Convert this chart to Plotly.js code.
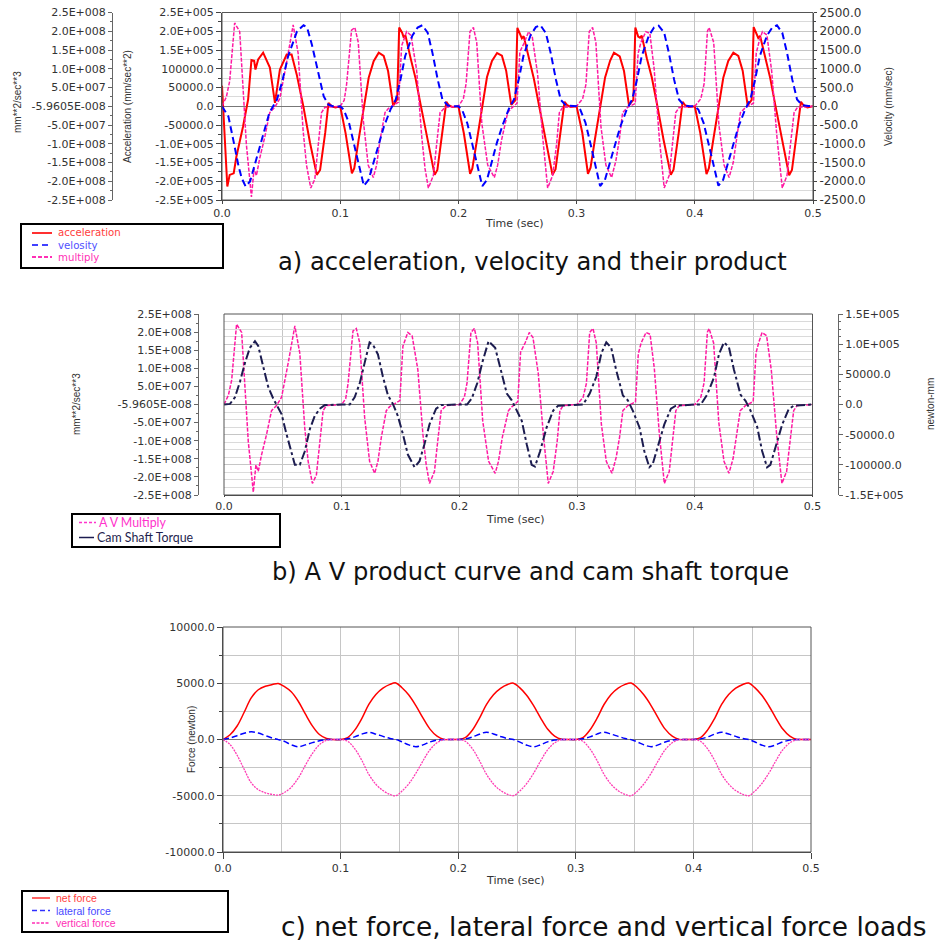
<!DOCTYPE html>
<html><head><meta charset="utf-8">
<script src="https://cdn.plot.ly/plotly-3.0.1.min.js"></script>
<style>body{margin:0;background:#fff}#chart{width:938px;height:943px}</style>
</head><body><div id="chart"></div>
<script>
// ---------- DATA ----------
const timeTicks = [0, 0.1, 0.2, 0.3, 0.4, 0.5];
const timeTickText = ['0.0', '0.1', '0.2', '0.3', '0.4', '0.5'];

const accTicks = [250000, 200000, 150000, 100000, 50000, 0, -50000, -100000, -150000, -200000, -250000];
const accTickText = ['2.5E+005', '2.0E+005', '1.5E+005', '100000.0', '50000.0', '0.0', '-50000.0', '-1.0E+005', '-1.5E+005', '-2.0E+005', '-2.5E+005'];

const mulTicks = [2.5e8, 2.0e8, 1.5e8, 1.0e8, 5.0e7, 0, -5.0e7, -1.0e8, -1.5e8, -2.0e8, -2.5e8];
const mulTickText = ['2.5E+008', '2.0E+008', '1.5E+008', '1.0E+008', '5.0E+007', '-5.9605E-008', '-5.0E+007', '-1.0E+008', '-1.5E+008', '-2.0E+008', '-2.5E+008'];

const velTicks = [2500, 2000, 1500, 1000, 500, 0, -500, -1000, -1500, -2000, -2500];
const velTickText = ['2500.0', '2000.0', '1500.0', '1000.0', '500.0', '0.0', '-500.0', '-1000.0', '-1500.0', '-2000.0', '-2500.0'];

const torTicks = [150000, 100000, 50000, 0, -50000, -100000, -150000];
const torTickText = ['1.5E+005', '1.0E+005', '50000.0', '0.0', '-50000.0', '-100000.0', '-1.5E+005'];

const forceTicks = [10000, 5000, 0, -5000, -10000];
const forceTickText = ['10000.0', '5000.0', '0.0', '-5000.0', '-10000.0'];

// acceleration (mm/sec**2)
const accT = [
 0, 0.0045, 0.0065, 0.0099, 0.0122, 0.0178, 0.0221, 0.0249, 0.0272, 0.0283, 0.0306, 0.0348, 0.0405, 0.0448, 0.049, 0.0547, 0.0589, 0.0632, 0.0688, 0.0745, 0.0802, 0.083, 0.0873, 0.0901, 0.0929, 0.096,
 0.1, 0.1045, 0.1099, 0.1119, 0.1156, 0.1198, 0.1241, 0.1283, 0.1326, 0.1368, 0.1405, 0.1448, 0.1482, 0.1499, 0.1524, 0.1538, 0.1552, 0.1595, 0.1637, 0.168, 0.1737, 0.1799, 0.1822, 0.1864, 0.1898, 0.192, 0.1949,
 0.2, 0.2046, 0.2099, 0.2118, 0.2157, 0.2199, 0.2242, 0.2284, 0.2327, 0.2368, 0.2404, 0.2447, 0.2482, 0.2499, 0.2523, 0.2537, 0.2552, 0.2596, 0.2638, 0.2681, 0.2738, 0.2796, 0.2822, 0.2864, 0.2898, 0.292, 0.295,
 0.3, 0.3048, 0.3096, 0.3118, 0.3155, 0.3197, 0.3241, 0.3284, 0.3316, 0.3365, 0.3401, 0.3443, 0.348, 0.3497, 0.3521, 0.3536, 0.3551, 0.3594, 0.3637, 0.368, 0.3736, 0.3797, 0.382, 0.3864, 0.3897, 0.392, 0.395,
 0.4, 0.4046, 0.4099, 0.4119, 0.4156, 0.4198, 0.4241, 0.4283, 0.4326, 0.4368, 0.4405, 0.4447, 0.4481, 0.4498, 0.4523, 0.4537, 0.4552, 0.4595, 0.4638, 0.468, 0.4737, 0.4798, 0.4822, 0.4864, 0.4898, 0.4921, 0.4952, 0.5
];
const accA = [
 55000, -214000, -183000, -179000, -134000, -54000, 18000, 123000, 121000, 98000, 125000, 143000, 103000, 9000, 98000, 138000, 138000, 85000, 0, -98000, -183000, -170000, -71000, 9000, 0, -3000,
 0, -71000, -179000, -165000, -89000, -10000, 76000, 120000, 143000, 134000, 94000, 2000, 18000, 210000, 196000, 183000, 189000, 129000, 75000, 5000, -90000, -183000, -170000, -70000, 12000, 2000, -2000,
 0, -72000, -180000, -166000, -90000, -8000, 78000, 121000, 142000, 135000, 95000, 4000, 16000, 209000, 190000, 181000, 187000, 128000, 74000, 4000, -92000, -183000, -168000, -72000, 12000, 3000, -2000,
 0, -70000, -180000, -164000, -88000, -9000, 77000, 122000, 143000, 133000, 94000, 3000, 17000, 210000, 186000, 183000, 188000, 128000, 76000, 6000, -90000, -183000, -169000, -71000, 12000, 2000, -2000,
 0, -71000, -181000, -165000, -90000, -10000, 76000, 121000, 143000, 134000, 95000, 2000, 17000, 211000, 190000, 182000, 188000, 130000, 75000, 5000, -91000, -184000, -170000, -70000, 12000, 2000, -3000, 0
];

// velocity (mm/sec)
const velT = [
 0, 0.0054, 0.0095, 0.014, 0.0167, 0.02, 0.0238, 0.0295, 0.035, 0.04, 0.0465, 0.0507, 0.056, 0.0635, 0.069, 0.072, 0.076, 0.08, 0.086, 0.09, 0.096,
 0.1, 0.103, 0.1075, 0.1115, 0.116, 0.12, 0.124, 0.128, 0.1325, 0.137, 0.1425, 0.147, 0.151, 0.155, 0.161, 0.1655, 0.1695, 0.174, 0.178, 0.1825, 0.1865, 0.191, 0.196,
 0.2, 0.2032, 0.2076, 0.2116, 0.2161, 0.2202, 0.2241, 0.2281, 0.2326, 0.2371, 0.2426, 0.2471, 0.2511, 0.2551, 0.261, 0.2655, 0.2694, 0.274, 0.2781, 0.2826, 0.2866, 0.291, 0.296,
 0.3, 0.3031, 0.3075, 0.3116, 0.3161, 0.3199, 0.324, 0.3281, 0.3325, 0.337, 0.3424, 0.347, 0.3511, 0.3551, 0.3611, 0.3655, 0.3694, 0.3741, 0.378, 0.3825, 0.3866, 0.391, 0.396,
 0.4, 0.403, 0.4075, 0.4115, 0.416, 0.42, 0.424, 0.428, 0.4325, 0.437, 0.4425, 0.447, 0.451, 0.455, 0.461, 0.4655, 0.4695, 0.474, 0.478, 0.4825, 0.4865, 0.491, 0.496, 0.5
];
const velV = [
 0, -270, -890, -1600, -1920, -2140, -2000, -1340, -710, -180, 180, 630, 1340, 2000, 2160, 2100, 1650, 1070, 270, 40, -20,
 0, -90, -450, -980, -1600, -2120, -1960, -1520, -980, -540, -90, 180, 710, 1340, 1880, 2100, 2160, 1960, 1430, 710, 180, 20, 0,
 0, -100, -460, -990, -1610, -2130, -1970, -1510, -970, -530, -80, 190, 720, 1350, 1890, 2110, 2160, 1950, 1420, 700, 170, 20, 0,
 0, -90, -440, -980, -1600, -2130, -1960, -1520, -980, -540, -90, 180, 710, 1340, 1880, 2100, 2150, 1960, 1430, 710, 180, 20, 0,
 0, -90, -450, -980, -1600, -2120, -1960, -1520, -980, -540, -90, 180, 710, 1340, 1880, 2100, 2160, 1960, 1430, 710, 180, 30, 10, 10
];

// A V product (mm**2/sec**3)
const mulT = [
 0, 0.0037, 0.0065, 0.0107, 0.015, 0.0178, 0.0206, 0.0249, 0.0271, 0.0291, 0.0319, 0.0362, 0.0404, 0.0446, 0.0489, 0.0545, 0.0602, 0.0644, 0.0686, 0.0715, 0.0751, 0.0785, 0.0814, 0.0842, 0.087,
 0.1, 0.1034, 0.1054, 0.1096, 0.1124, 0.1153, 0.1195, 0.1237, 0.128, 0.1308, 0.1336, 0.1379, 0.1407, 0.1449, 0.1494, 0.152, 0.1562, 0.1599, 0.1647, 0.169, 0.1718, 0.1746, 0.1788, 0.1816, 0.1845, 0.1887,
 0.2, 0.2042, 0.2065, 0.2098, 0.2127, 0.2155, 0.2198, 0.2248, 0.2304, 0.2332, 0.2365, 0.2417, 0.245, 0.2496, 0.252, 0.2558, 0.2594, 0.2625, 0.267, 0.2713, 0.2755, 0.2797, 0.2831, 0.2854, 0.2882,
 0.3, 0.3051, 0.3079, 0.3107, 0.3135, 0.3163, 0.3206, 0.3248, 0.3296, 0.3332, 0.3361, 0.3389, 0.3431, 0.3496, 0.352, 0.3544, 0.3586, 0.362, 0.3656, 0.3699, 0.3741, 0.3783, 0.3811, 0.3839, 0.3868,
 0.4, 0.4051, 0.4079, 0.4107, 0.4121, 0.416, 0.4204, 0.4248, 0.429, 0.4325, 0.4355, 0.4386, 0.443, 0.4496, 0.452, 0.4542, 0.4572, 0.461, 0.465, 0.4695, 0.474, 0.478, 0.481, 0.484, 0.4868, 0.5
];
const mulV = [
 0, 0.25e8, 0.67e8, 2.22e8, 1.99e8, 0.58e8, -1.01e8, -2.42e8, -1.67e8, -1.85e8, -1.39e8, -0.82e8, -0.17e8, -0.03e8, 0.2e8, 1.14e8, 2.17e8, 1.42e8, -0.64e8, -1.57e8, -2.18e8, -1.95e8, -1.01e8, -0.17e8, -0.03e8,
 0, 0.16e8, 0.58e8, 2.03e8, 2.1e8, 1.7e8, -0.36e8, -1.57e8, -1.9e8, -1.57e8, -0.92e8, -0.17e8, -0.06e8, 0.02e8, 0.11e8, 1.61e8, 1.99e8, 1.89e8, 0.96e8, -0.82e8, -1.67e8, -2.18e8, -1.85e8, -1.01e8, -0.17e8, -0.03e8,
 0, 0.2e8, 0.6e8, 1.99e8, 2.1e8, 1.7e8, -0.45e8, -1.57e8, -1.9e8, -1.57e8, -0.9e8, -0.17e8, -0.05e8, 0.08e8, 1.45e8, 1.7e8, 1.99e8, 1.85e8, 0.86e8, -0.82e8, -2.18e8, -1.85e8, -1.01e8, -0.17e8, -0.03e8,
 0, 0.2e8, 0.58e8, 1.99e8, 2.1e8, 1.7e8, -0.54e8, -1.57e8, -1.9e8, -1.46e8, -0.9e8, -0.17e8, -0.03e8, 0.07e8, 1.4e8, 1.7e8, 1.99e8, 1.94e8, 1.0e8, -0.82e8, -2.18e8, -1.85e8, -1.01e8, -0.17e8, -0.03e8,
 0, 0.2e8, 0.6e8, 2.0e8, 2.1e8, 1.7e8, -0.5e8, -1.57e8, -1.9e8, -1.5e8, -0.9e8, -0.17e8, -0.03e8, 0.08e8, 1.42e8, 1.7e8, 1.99e8, 1.9e8, 0.95e8, -0.82e8, -2.18e8, -1.85e8, -1.0e8, -0.17e8, -0.03e8, 0
];

// cam shaft torque (newton-mm)
const torT = [
 0, 0.0051, 0.0093, 0.0136, 0.0178, 0.022, 0.0263, 0.0291, 0.0333, 0.0376, 0.0418, 0.046, 0.0489, 0.0531, 0.0573, 0.0602, 0.0644, 0.0686, 0.0729, 0.0771, 0.0814, 0.0856,
 0.1, 0.1068, 0.111, 0.1153, 0.1195, 0.1237, 0.1266, 0.1308, 0.135, 0.1393, 0.1435, 0.1477, 0.152, 0.1562, 0.1619, 0.1661, 0.1703, 0.1746, 0.1802, 0.1845,
 0.2, 0.2065, 0.2105, 0.2153, 0.2195, 0.2248, 0.2304, 0.2346, 0.2403, 0.2445, 0.2487, 0.253, 0.2572, 0.2614, 0.2642, 0.2685, 0.2741, 0.2797, 0.2839,
 0.3, 0.3051, 0.3107, 0.3163, 0.3206, 0.3248, 0.329, 0.3332, 0.3389, 0.3431, 0.3473, 0.353, 0.3572, 0.3614, 0.3642, 0.3685, 0.3741, 0.3797, 0.3839,
 0.4, 0.4051, 0.4107, 0.4163, 0.4206, 0.4248, 0.429, 0.4332, 0.4389, 0.4431, 0.4473, 0.453, 0.4572, 0.4614, 0.4642, 0.4685, 0.4741, 0.4797, 0.484, 0.5
];
const torV = [
 0, 1000, 12000, 38000, 69000, 94000, 105000, 97000, 63000, 29000, 10000, -4000, -16000, -49000, -78000, -100000, -100000, -78000, -41000, -19000, -7000, -1000,
 0, 0, 12000, 35000, 69000, 103000, 99000, 83000, 46000, 15000, 1000, -19000, -49000, -83000, -104000, -94000, -66000, -33000, -7000, -1000,
 0, 0, 10000, 36000, 70000, 105000, 94000, 63000, 18000, 7000, -10000, -27000, -66000, -100000, -103000, -78000, -38000, -10000, -2000,
 0, 0, 18000, 46000, 85000, 103000, 94000, 57000, 15000, 7000, -10000, -38000, -78000, -104000, -99000, -72000, -33000, -7000, -2000,
 0, 0, 17000, 45000, 84000, 103000, 95000, 58000, 16000, 6000, -10000, -37000, -77000, -104000, -100000, -73000, -34000, -8000, -2000, 0
];

// force loads (newton)
const forceT = [
 0, 0.006, 0.012, 0.018, 0.024, 0.03, 0.036, 0.042, 0.047, 0.052, 0.058, 0.064, 0.07, 0.076, 0.082, 0.088, 0.094,
 0.1, 0.106, 0.112, 0.118, 0.124, 0.13, 0.136, 0.142, 0.147, 0.152, 0.158, 0.164, 0.17, 0.176, 0.182, 0.188, 0.194,
 0.2, 0.206, 0.212, 0.218, 0.224, 0.23, 0.236, 0.242, 0.247, 0.252, 0.258, 0.264, 0.27, 0.276, 0.282, 0.288, 0.294,
 0.3, 0.306, 0.312, 0.318, 0.324, 0.33, 0.336, 0.342, 0.347, 0.352, 0.358, 0.364, 0.37, 0.376, 0.382, 0.388, 0.394,
 0.4, 0.406, 0.412, 0.418, 0.424, 0.43, 0.436, 0.442, 0.447, 0.452, 0.458, 0.464, 0.47, 0.476, 0.482, 0.488, 0.494, 0.5
];
const netF = [
 0, 420, 1200, 2420, 3700, 4420, 4730, 4880, 4980, 4720, 4240, 3400, 2270, 1210, 440, 90, 0,
 0, 170, 830, 1860, 3120, 4000, 4560, 4900, 5030, 4620, 3950, 3010, 1920, 920, 290, 10, 0,
 0, 160, 820, 1880, 3100, 3980, 4550, 4890, 5010, 4630, 3960, 3030, 1930, 930, 300, 15, 0,
 0, 170, 840, 1870, 3110, 4000, 4570, 4900, 5020, 4640, 3950, 3020, 1920, 920, 290, 10, 0,
 0, 165, 830, 1860, 3120, 3990, 4560, 4890, 5020, 4630, 3950, 3020, 1930, 925, 295, 12, 0, 0
];
const latF = [
 0, 140, 340, 550, 680, 580, 350, 130, -10, -160, -460, -650, -480, -280, -110, -5, 0,
 0, 60, 230, 480, 640, 480, 280, 90, 0, -200, -480, -640, -480, -220, -60, 0, 0,
 0, 50, 220, 470, 650, 490, 270, 80, 0, -210, -490, -650, -470, -210, -50, 0, 0,
 0, 60, 230, 480, 650, 480, 280, 90, -10, -200, -480, -640, -480, -220, -60, 0, 0,
 0, 55, 225, 475, 640, 485, 275, 85, 0, -205, -485, -645, -475, -215, -55, 0, 0, 0
];
const vertF = [
 0, -450, -1400, -2650, -3850, -4460, -4740, -4880, -4940, -4720, -4250, -3430, -2300, -1250, -460, -80, 0,
 0, -160, -820, -1850, -3100, -3980, -4540, -4880, -5000, -4600, -3940, -3000, -1910, -910, -290, -10, 0,
 0, -150, -810, -1870, -3080, -3960, -4530, -4870, -4990, -4610, -3950, -3020, -1920, -920, -300, -20, 0,
 0, -160, -830, -1860, -3090, -3980, -4550, -4880, -5000, -4620, -3940, -3010, -1910, -910, -290, -10, 0,
 0, -155, -820, -1850, -3100, -3970, -4540, -4870, -5000, -4610, -3940, -3020, -1920, -915, -295, -15, 0, 0
];

// ---------- LAYOUT HELPERS ----------
const W = 938, H = 943;
const px = v => v / W;
const py = v => 1 - v / H;

const RED = '#ff0000', BLUE = '#0000ff', PINK = '#ff1aa3', NAVY = '#1c1c50';
const tickFont = {family: 'DejaVu Sans', size: 11, color: '#333'};
const titleFont = {family: 'Liberation Sans, Arial', size: 10, color: '#333'};
const capFont = s => ({family: 'DejaVu Sans', size: s, color: '#111'});

const traces = [
  {x: accT, y: accA, xaxis: 'x', yaxis: 'y', mode: 'lines', name: 'acceleration', line: {color: RED, width: 2}},
  {x: velT, y: velV, xaxis: 'x', yaxis: 'y3', mode: 'lines', name: 'velosity', line: {color: BLUE, width: 2, dash: '7px,4px'}},
  {x: mulT, y: mulV, xaxis: 'x', yaxis: 'y2', mode: 'lines', name: 'multiply', line: {color: PINK, width: 1.5, dash: '4px,1.5px'}},
  {x: mulT, y: mulV, xaxis: 'x2', yaxis: 'y5', mode: 'lines', name: 'A V Multiply', line: {color: PINK, width: 1.5, dash: '4px,1.5px'}},
  {x: torT, y: torV, xaxis: 'x2', yaxis: 'y6', mode: 'lines', name: 'Cam Shaft Torque', line: {color: NAVY, width: 2, dash: '9px,3px,3px,3px'}},
  {x: forceT, y: netF, xaxis: 'x3', yaxis: 'y7', mode: 'lines', name: 'net force', line: {color: RED, width: 1.5, shape: 'spline'}},
  {x: forceT, y: latF, xaxis: 'x3', yaxis: 'y7', mode: 'lines', name: 'lateral force', line: {color: BLUE, width: 1.5, dash: '6px,3px', shape: 'spline'}},
  {x: forceT, y: vertF, xaxis: 'x3', yaxis: 'y7', mode: 'lines', name: 'vertical force', line: {color: '#ff3cb4', width: 1.3, dash: '2px,1px', shape: 'spline'}}
];

const gridCol = '#c6c6c6', minorGridCol = '#dadada';
function xAx(d0, d1, anchor, tl) {
  return {domain: [px(d0), px(d1)], anchor: anchor, range: [0, 0.5], tickmode: 'array', tickvals: timeTicks, ticktext: timeTickText,
    ticks: 'outside', ticklen: tl, tickcolor: '#444', showline: true, linecolor: '#444', tickfont: tickFont,
    showgrid: true, gridcolor: gridCol, zeroline: false,
    minor: {tickmode: 'linear', tick0: 0, dtick: 0.05, showgrid: true, gridcolor: gridCol}};
}

const layout = {
  width: W, height: H, margin: {l: 0, r: 0, t: 0, b: 0}, paper_bgcolor: '#fff', plot_bgcolor: 'rgba(0,0,0,0)',
  showlegend: false,
  // ---- panel a ----
  xaxis: xAx(222, 813, 'y', 3),
  yaxis: {domain: [py(200), py(12.5)], anchor: 'x', range: [-250000, 250000], tickmode: 'array', tickvals: accTicks, ticktext: accTickText,
    ticks: 'outside', ticklen: 5, tickcolor: '#444', showline: true, linecolor: '#444', tickfont: tickFont,
    showgrid: true, gridcolor: gridCol, zeroline: true, zerolinecolor: '#777', zerolinewidth: 1,
    minor: {tickmode: 'linear', tick0: 0, dtick: 25000, ticks: 'outside', ticklen: 3, tickcolor: '#444', showgrid: true, gridcolor: minorGridCol}},
  yaxis2: {overlaying: 'y', anchor: 'free', position: px(112), side: 'left', range: [-2.5e8, 2.5e8], tickmode: 'array', tickvals: mulTicks, ticktext: mulTickText,
    ticks: 'outside', ticklen: 4, tickcolor: '#666', showline: true, linecolor: '#666', tickfont: tickFont, showgrid: false, zeroline: false,
    minor: {tickmode: 'linear', tick0: 0, dtick: 2.5e7, ticks: 'outside', ticklen: 2, tickcolor: '#666'}},
  yaxis3: {overlaying: 'y', anchor: 'x', side: 'right', range: [-2500, 2500], tickmode: 'array', tickvals: velTicks, ticktext: velTickText,
    ticks: 'outside', ticklen: 3, tickcolor: '#444', showline: true, linecolor: '#444', tickfont: {family: 'DejaVu Sans', size: 12, color: '#333'}, showgrid: false, zeroline: false,
    minor: {tickmode: 'linear', tick0: 0, dtick: 250, ticks: 'outside', ticklen: 2, tickcolor: '#444'}},
  // ---- panel b ----
  xaxis2: xAx(224, 812.5, 'y5', 1),
  yaxis5: {domain: [py(495), py(314)], anchor: 'free', position: px(198), side: 'left', range: [-2.5e8, 2.5e8], tickmode: 'array', tickvals: mulTicks, ticktext: mulTickText,
    ticks: 'outside', ticklen: 4, tickcolor: '#666', showline: true, linecolor: '#666', tickfont: tickFont, showgrid: false, zeroline: false,
    minor: {tickmode: 'linear', tick0: 0, dtick: 2.5e7, ticks: 'outside', ticklen: 2, tickcolor: '#666'}},
  yaxis6: {overlaying: 'y5', anchor: 'free', position: px(838), side: 'right', range: [-150000, 150000], tickmode: 'array', tickvals: torTicks, ticktext: torTickText,
    ticks: 'outside', ticklen: 4, tickcolor: '#666', showline: true, linecolor: '#666', tickfont: tickFont,
    showgrid: true, gridcolor: gridCol, zeroline: true, zerolinecolor: '#777', zerolinewidth: 1,
    minor: {tickmode: 'linear', tick0: 0, dtick: 12500, ticks: 'outside', ticklen: 2, tickcolor: '#666', showgrid: true, gridcolor: minorGridCol}},
  // ---- panel c ----
  xaxis3: xAx(223, 811, 'y7', 6),
  yaxis7: {domain: [py(852), py(627)], anchor: 'x3', range: [-10000, 10000], tickmode: 'array', tickvals: forceTicks, ticktext: forceTickText,
    ticks: 'outside', ticklen: 5, tickcolor: '#444', showline: true, linecolor: '#444', tickfont: tickFont,
    showgrid: true, gridcolor: gridCol, zeroline: true, zerolinecolor: '#777', zerolinewidth: 1,
    minor: {tickmode: 'linear', tick0: 0, dtick: 2500, ticks: 'outside', ticklen: 3, tickcolor: '#444', showgrid: true, gridcolor: gridCol}},
  shapes: [],
  annotations: []
};

// plot frames
[['x', 'y'], ['x2', 'y5'], ['x3', 'y7']].forEach(([xa, ya]) => {
  layout.shapes.push({type: 'rect', xref: xa + ' domain', yref: ya + ' domain', x0: 0, x1: 1, y0: 0, y1: 1, line: {color: '#555', width: 1}, layer: 'above'});
});

function ann(text, x, y, font, extra) {
  layout.annotations.push(Object.assign({text: text, x: px(x), y: py(y), xref: 'paper', yref: 'paper', showarrow: false,
    xanchor: 'center', yanchor: 'middle', font: font}, extra || {}));
}
function legendBox(x0, y0, x1, y1) {
  layout.shapes.push({type: 'rect', xref: 'paper', yref: 'paper', x0: px(x0), x1: px(x1), y0: py(y1), y1: py(y0),
    line: {color: '#000', width: 2}, fillcolor: '#fff', layer: 'above'});
}
function swatch(x0, x1, y, color, width, dash) {
  layout.shapes.push({type: 'line', xref: 'paper', yref: 'paper', x0: px(x0), x1: px(x1), y0: py(y), y1: py(y),
    line: {color: color, width: width, dash: dash}, layer: 'above'});
}

// axis titles
ann('mm**2/sec**3', 17, 102, titleFont, {textangle: -90});
ann('Acceleration (mm/sec**2)', 128, 107, titleFont, {textangle: -90});
ann('Velocity (mm/sec)', 889, 107, titleFont, {textangle: -90});
ann('Time (sec)', 514, 224, tickFont);
ann('mm**2/sec**3', 76, 404, titleFont, {textangle: -90});
ann('newton-mm', 930, 404, titleFont, {textangle: -90});
ann('Time (sec)', 515, 519, tickFont);
ann('Force (newton)', 191, 740, titleFont, {textangle: -90});
ann('Time (sec)', 515, 880, tickFont);

// captions
ann('a) acceleration, velocity and their product', 532, 262, capFont(24.2));
ann('b) A V product curve and cam shaft torque', 530, 572, capFont(24.2));
ann('c) net force, lateral force and vertical force loads', 604, 926.5, capFont(26.4));

const noPad = {xanchor: 'left', borderpad: 0, borderwidth: 0};

// legend a
legendBox(21, 224, 223, 268);
swatch(32, 52, 233, '#ff3030', 2, 'solid');
swatch(32, 52, 245, '#4040ff', 2, '6px,4px');
swatch(32, 52, 257, '#ff2fb5', 2, '4px,2px');
const legAFont = c => ({family: 'DejaVu Sans', size: 10.2, color: c});
ann('acceleration', 58, 233, legAFont('#ff4040'), noPad);
ann('velosity', 58, 245, legAFont('#5050ff'), noPad);
ann('multiply', 58, 257, legAFont('#ff2fb5'), noPad);

// legend b
legendBox(72, 514, 280, 547);
swatch(79, 96, 522.5, '#ff33cc', 1.5, '3px,2px');
swatch(79, 94, 537.5, NAVY, 1.5, 'solid');
ann('A V Multiply', 99, 522.5, {family: 'Lato, Open Sans', size: 12.4, color: '#ff33cc'}, noPad);
ann('Cam Shaft Torque', 97, 537.5, {family: 'Lato, Open Sans', size: 12.4, color: '#1f1f4f'}, noPad);

// legend c
legendBox(22, 891, 228, 932);
swatch(32, 50, 898, '#ff3030', 1.5, 'solid');
swatch(32, 50, 910.5, '#3030ff', 1.5, '5px,3px');
swatch(32, 50, 923, '#ff2fb5', 1.5, '3px,1.5px');
const legCFont = c => ({family: 'Liberation Sans, Arial', size: 10.5, color: c});
ann('net force', 56, 898, legCFont('#ff4040'), noPad);
ann('lateral force', 56, 910.5, legCFont('#4848ff'), noPad);
ann('vertical force', 56, 923, legCFont('#ff2fb5'), noPad);

Plotly.newPlot('chart', traces, layout, {staticPlot: true, displayModeBar: false});
</script></body></html>
